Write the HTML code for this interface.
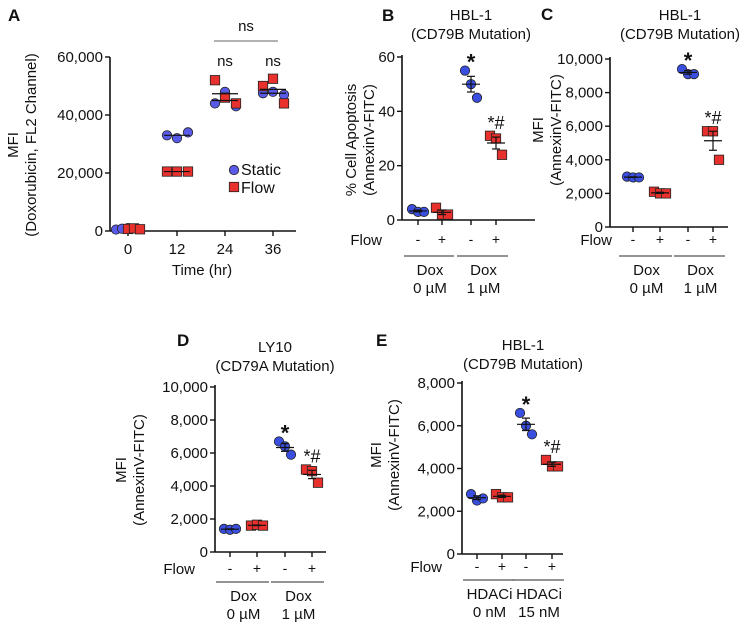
<!DOCTYPE html>
<html><head><meta charset="utf-8"><style>
html,body{margin:0;padding:0;background:#fff;}
svg{display:block;font-family:"Liberation Sans",Arial,sans-serif;}
</style></head><body>
<svg id="fig" width="750" height="627" viewBox="0 0 750 627" xmlns="http://www.w3.org/2000/svg"></svg>
<script>
// Panel A data
const aTimes = ['0','12','24','36'];
const aStatic = [[500,800,1000],[33000,32000,34000],[44000,48000,43000],[47500,48000,47000]];
const aFlow = [[700,900,600],[20500,20500,20500],[52000,46000,44000],[50000,52500,44000]];
const aTicks = [0,20000,40000,60000];
const aTickLabels = ['0','20,000','40,000','60,000'];
// Panel B
const bVals = [[4,3,3],[4.5,2,2],[55,50,45],[31,30,24]];
const bTicks = [0,20,40,60];
// Panel C
const cVals = [[3000,2950,2950],[2100,2000,2000],[9400,9100,9100],[5700,5700,4000]];
const cTicks = [0,2000,4000,6000,8000,10000];
// Panel D
const dVals = [[1400,1350,1400],[1600,1650,1600],[6700,6400,5900],[5000,4900,4200]];
const dTicks = [0,2000,4000,6000,8000,10000];
// Panel E
const eVals = [[2800,2500,2600],[2800,2650,2650],[6600,6000,5600],[4400,4100,4100]];
const eTicks = [0,2000,4000,6000,8000];
const groupSigns = ['-','+','-','+'];

const svg=document.getElementById('fig');
const NS='http://www.w3.org/2000/svg';
function mk(tag,attrs,parent){const e=document.createElementNS(NS,tag);for(const k in attrs)e.setAttribute(k,attrs[k]);(parent||svg).appendChild(e);return e;}
function txt(x,y,s,size,anchor,parent,extra){const t=mk('text',Object.assign({x:x,y:y,'font-size':size,'text-anchor':anchor||'middle',fill:'#111'},extra||{}),parent);t.textContent=s;return t;}
const BLUE='#3a4fe0', RED='#e8302c';
function fmt(v){return v.toLocaleString('en-US');}
function mean(a){return a.reduce((s,v)=>s+v,0)/a.length;}
function sem(a){const m=mean(a);return Math.sqrt(a.reduce((s,v)=>s+(v-m)*(v-m),0)/(a.length-1))/Math.sqrt(a.length);}

function circle(g,x,y,c){const e=mk('circle',{cx:x,cy:y,r:4.7,fill:c,stroke:'#222','stroke-width':0.8},g);}
function square(g,x,y,c){const e=mk('rect',{x:x-4.7,y:y-4.7,width:9.4,height:9.4,fill:c,stroke:'#222','stroke-width':0.8},g);}

function panel(o){
  const g=mk('g',{});
  
  
  const y=v=>o.y0-(v-o.tmin)/(o.tmax-o.tmin)*(o.y0-o.y1);
  mk('line',{x1:o.ax,y1:o.y1-2,x2:o.ax,y2:o.y0,stroke:'#111','stroke-width':1.6},g);
  mk('line',{x1:o.ax,y1:o.y0,x2:o.axEnd,y2:o.y0,stroke:'#111','stroke-width':1.6},g);
  o.ticks.forEach((t,i)=>{const yy=y(t);mk('line',{x1:o.ax-5,y1:yy,x2:o.ax,y2:yy,stroke:'#111','stroke-width':1.4},g);
    const l=txt(o.ax-7,yy+5,o.tickLabels?o.tickLabels[i]:fmt(t),15,'end',g);});
  o.cx.forEach(x=>mk('line',{x1:x,y1:o.y0,x2:x,y2:o.y0+5,stroke:'#111','stroke-width':1.4},g));
  o.vals.forEach((arr,gi)=>{
    const cx=o.cx[gi], blue=gi%2===0, m=mean(arr), s=sem(arr);
    const offs=[-6,0,6];
    arr.forEach((v,i)=>{ if(blue) circle(g,cx+offs[i],y(v),BLUE); else square(g,cx+offs[i],y(v),RED);});
    mk('line',{x1:cx-9,y1:y(m),x2:cx+9,y2:y(m),stroke:'#111','stroke-width':1.2},g);
    mk('line',{x1:cx,y1:y(m+s),x2:cx,y2:y(m-s),stroke:'#111','stroke-width':1.2},g);
    mk('line',{x1:cx-4,y1:y(m+s),x2:cx+4,y2:y(m+s),stroke:'#111','stroke-width':1.2},g);
    mk('line',{x1:cx-4,y1:y(m-s),x2:cx+4,y2:y(m-s),stroke:'#111','stroke-width':1.2},g);
  });
  txt(o.cx[2],y(Math.max(...o.vals[2]))-9,'*',22,'middle',g,{'font-weight':'bold'}).setAttribute('dy','8');
  txt(o.cx[3],y(Math.max(...o.vals[3]))-11,'*#',18,'middle',g).setAttribute('dy','4');
  txt(o.flowX,o.flowY+5,'Flow',15,'end',g);
  o.cx.forEach((x,i)=>txt(x,o.flowY+4,groupSigns[i],14,'middle',g));
  [[0,1],[2,3]].forEach((p,i)=>{
    mk('line',{x1:o.cx[p[0]]-14,y1:o.lineY,x2:o.cx[p[1]]+12,y2:o.lineY,stroke:'#555','stroke-width':1.2},g);
    const mx=(o.cx[p[0]]+o.cx[p[1]])/2;
    txt(mx,o.lineY+19,o.lab1[i],15,'middle',g);
    txt(mx,o.lineY+37,o.lab2[i],15,'middle',g);
  });
  txt(o.titleX,o.titleY,o.title1,15,'middle',g);
  txt(o.titleX,o.titleY+19,o.title2,15,'middle',g);
  const yl=mk('g',{transform:`translate(${o.ylX},${o.ylY}) rotate(-90)`},g);
  txt(0,0,o.yl1,15,'middle',yl);
  if(o.yl2) txt(0,18,o.yl2,15,'middle',yl);
  txt(o.letX,o.letY,o.letter,17,'start',g,{'font-weight':'bold'});
}

// Panel A
(function(){
  const g=mk('g',{});
  
  
  const ax=110,y0=231,y1=57,axEnd=296,cx=[128,177,225,273];
  const y=v=>y0-v/60000*(y0-y1);
  mk('line',{x1:ax,y1:y1,x2:ax,y2:y0,stroke:'#111','stroke-width':1.6},g);
  mk('line',{x1:ax,y1:y0,x2:axEnd,y2:y0,stroke:'#111','stroke-width':1.6},g);
  aTicks.forEach((t,i)=>{const yy=y(t);mk('line',{x1:ax-5,y1:yy,x2:ax,y2:yy,stroke:'#111','stroke-width':1.4},g);txt(ax-7,yy+5,aTickLabels[i],15,'end',g);});
  aTimes.forEach((t,i)=>{mk('line',{x1:cx[i],y1:y0,x2:cx[i],y2:y0+5,stroke:'#111','stroke-width':1.4},g);txt(cx[i],y0+23,t,15,'middle',g);});
  aTimes.forEach((t,i)=>{
    const offs=i===0?[-6,0,6]:[-10,0,11];
    aStatic[i].forEach((v,j)=>circle(g,cx[i]+offs[j]-(i===0?6:0),y(v),'#5a5ae8'));
    aFlow[i].forEach((v,j)=>square(g,cx[i]+offs[j]+(i===0?6:0),y(v),RED));
    if(i>0){
      mk('line',{x1:cx[i]-13,y1:y(mean(aStatic[i])),x2:cx[i]+13,y2:y(mean(aStatic[i])),stroke:'#111','stroke-width':1.2},g);
      mk('line',{x1:cx[i]-13,y1:y(mean(aFlow[i])),x2:cx[i]+13,y2:y(mean(aFlow[i])),stroke:'#111','stroke-width':1.2},g);
    }
  });
  txt(cx[2],66,'ns',15,'middle',g);txt(cx[3],66,'ns',15,'middle',g);
  mk('line',{x1:214,y1:41,x2:278,y2:41,stroke:'#999','stroke-width':1.5},g);
  txt(246,31,'ns',15,'middle',g);
  circle(g,234,170,'#5a5ae8');txt(241,175,'Static',16,'start',g);
  square(g,234,187,RED);txt(241,193,'Flow',16,'start',g);
  txt(202,275,'Time (hr)',15,'middle',g);
  const yl=mk('g',{transform:'translate(18,145) rotate(-90)'},g);
  txt(0,0,'MFI',15,'middle',yl);txt(0,18,'(Doxorubicin, FL2 Channel)',15,'middle',yl);
  txt(8,21,'A',17,'start',g,{'font-weight':'bold'});
})();

panel({name:'panel-b',ax:402,axEnd:535,y0:220,y1:57,tmin:0,tmax:60,ticks:bTicks,vals:bVals,cx:[418,442,471,496],
  flowX:382,flowY:240,lineY:256,lab1:['Dox','Dox'],lab2:['0 µM','1 µM'],titleX:471,titleY:20,title1:'HBL-1',title2:'(CD79B Mutation)',
  ylX:356,ylY:140,yl1:'% Cell Apoptosis',yl2:'(AnnexinV-FITC)',letX:382,letY:21,letter:'B'});
panel({name:'panel-c',ax:610,axEnd:728,y0:227,y1:59,tmin:0,tmax:10000,ticks:cTicks,vals:cVals,cx:[633,660,688,713],
  flowX:612,flowY:240,lineY:256,lab1:['Dox','Dox'],lab2:['0 µM','1 µM'],titleX:680,titleY:20,title1:'HBL-1',title2:'(CD79B Mutation)',
  ylX:543,ylY:130,yl1:'MFI',yl2:'(AnnexinV-FITC)',letX:541,letY:20,letter:'C'});
panel({name:'panel-d',ax:215,axEnd:326,y0:552,y1:387,tmin:0,tmax:10000,ticks:dTicks,vals:dVals,cx:[230,257,285,312],
  flowX:195,flowY:569,lineY:582,lab1:['Dox','Dox'],lab2:['0 µM','1 µM'],titleX:275,titleY:352,title1:'LY10',title2:'(CD79A Mutation)',
  ylX:126,ylY:470,yl1:'MFI',yl2:'(AnnexinV-FITC)',letX:177,letY:346,letter:'D'});
panel({name:'panel-e',ax:462,axEnd:563,y0:554,y1:383,tmin:0,tmax:8000,ticks:eTicks,vals:eVals,cx:[477,502,526,552],
  flowX:442,flowY:567,lineY:580,lab1:['HDACi','HDACi'],lab2:['0 nM','15 nM'],titleX:523,titleY:350,title1:'HBL-1',title2:'(CD79B Mutation)',
  ylX:381,ylY:455,yl1:'MFI',yl2:'(AnnexinV-FITC)',letX:376,letY:346,letter:'E'});
</script>
</body></html>
